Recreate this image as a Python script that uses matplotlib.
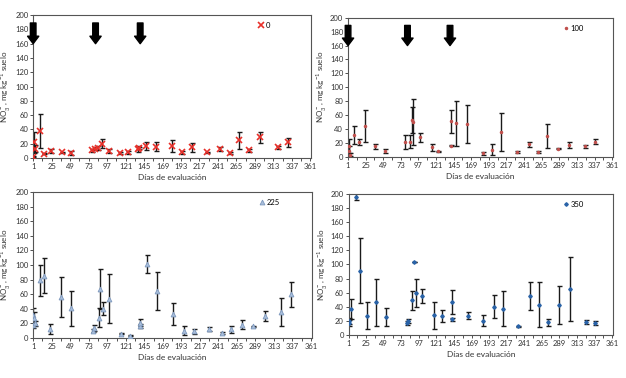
import matplotlib
matplotlib.use("Agg")
import matplotlib.pyplot as plt
import numpy as np

plt.rcParams['font.family'] = ['Lato', 'DejaVu Sans']
plt.rcParams['mathtext.fontset'] = 'custom'
plt.rcParams['mathtext.rm'] = 'Lato'

# dose 0
days1 = [1, 2, 3, 10, 15, 24, 38, 50, 78, 81, 85, 90, 99, 114, 124, 137, 139, 147, 161, 181,
         194, 207, 227, 243, 256, 268, 281, 296, 319, 332]
vals1 = [2, 22, 13, 38, 6, 10, 8, 7, 11, 13, 14, 20, 10, 7, 8, 13, 14, 17, 16, 17,
         8, 15, 8, 13, 7, 25, 11, 29, 15, 22]
err1 = [1, 15, 5, 24, 1, 3, 1, 3, 2, 2, 3, 6, 3, 1, 2, 4, 2, 6, 6, 8,
        2, 6, 1, 3, 1, 12, 2, 8, 2, 6]

# dose 100
days2 = [2, 2, 3, 9, 16, 24, 38, 51, 78, 85, 88, 89, 99, 116, 123, 142, 142, 148, 163, 185,
         197, 210, 231, 248, 260, 272, 287, 302, 324, 337]
vals2 = [15, 8, 3, 32, 21, 45, 15, 8, 21, 22, 53, 50, 28, 14, 8, 51, 16, 48, 47, 5,
         10, 36, 7, 18, 7, 30, 12, 17, 15, 22]
err2 = [10, 7, 2, 13, 4, 23, 3, 3, 10, 9, 18, 33, 7, 5, 1, 16, 1, 32, 27, 2,
        8, 27, 1, 4, 1, 17, 1, 4, 2, 4]

# dose 225
days3 = [1, 1, 2, 3, 10, 15, 23, 37, 50, 79, 80, 86, 88, 91, 99, 115, 126, 139, 140, 148,
         161, 182, 196, 210, 229, 246, 258, 271, 286, 301, 322, 335]
vals3 = [18, 32, 27, 20, 79, 85, 12, 56, 41, 10, 14, 28, 67, 40, 54, 6, 3, 16, 21, 101,
         64, 33, 10, 9, 12, 7, 12, 18, 16, 30, 36, 60]
err3 = [4, 9, 8, 3, 21, 24, 7, 27, 24, 2, 4, 13, 28, 9, 33, 1, 1, 3, 5, 12,
        26, 15, 6, 3, 3, 1, 5, 6, 1, 7, 19, 17]

# dose 350
days4 = [1, 2, 4, 11, 16, 26, 39, 52, 81, 82, 88, 90, 93, 101, 117, 128, 142, 142, 164, 185,
         199, 212, 232, 249, 261, 274, 288, 303, 325, 338]
vals4 = [17, 20, 37, 196, 91, 27, 46, 25, 17, 20, 49, 104, 59, 55, 28, 27, 22, 46, 27, 20,
         40, 37, 12, 55, 43, 18, 43, 65, 18, 17]
err4 = [4, 4, 14, 5, 46, 19, 33, 13, 3, 3, 13, 0, 20, 10, 19, 8, 2, 17, 5, 8,
        16, 25, 1, 20, 32, 5, 27, 45, 3, 3]

arrow_days = [1, 82, 140]
xticks = list(range(1, 362, 24))

panels = [
    ([0.053, 0.582, 0.444, 0.378], days1, vals1, err1, "0", dict(marker='x', color='#e8302a', ms=4, mew=1.2), True),
    ([0.556, 0.585, 0.423, 0.368], days2, vals2, err2, "100", dict(marker='.', color='#c0504d', ms=3), True),
    ([0.053, 0.106, 0.445, 0.386], days3, vals3, err3, "225", dict(marker='^', color='#a9bedb', mec='#7d98bd', mew=0.6, ms=3.5), False),
    ([0.557, 0.114, 0.422, 0.373], days4, vals4, err4, "350", dict(marker='D', color='#2a63a8', ms=1.8), False),
]

fig = plt.figure(figsize=(6.26, 3.78), dpi=100)

for rect, d, v, e, lab, mstyle, arrows in panels:
    ax = fig.add_axes(rect)
    ax.errorbar(d, v, yerr=e, fmt='none', ecolor='#1a1a1a', elinewidth=1.0, capsize=1.8, capthick=1.0, zorder=2)
    ax.plot(d, v, linestyle='none', label=lab, zorder=3, **mstyle)
    if arrows:
        for a in arrow_days:
            ax.annotate('', xy=(a, 160), xytext=(a, 189),
                        arrowprops=dict(arrowstyle='simple,head_width=0.9,head_length=0.6,tail_width=0.45',
                                        color='black', mutation_scale=9, shrinkA=0, shrinkB=0))
    ax.set_xlim(1, 362)
    ax.set_ylim(0, 200)
    ax.set_xticks(xticks)
    ax.set_xticks(list(range(13, 362, 24)), minor=True)
    ax.set_yticks(range(0, 201, 20))
    ax.tick_params(labelsize=5.5, length=2, width=0.6, pad=1.5, colors='#333333')
    ax.tick_params(which='minor', length=2, width=0.6, colors='#333333')
    for s in ax.spines.values():
        s.set_color('#555555')
        s.set_linewidth(0.8)
    ax.set_xlabel('Días de evaluación', fontsize=6, color='#333333', labelpad=3)
    ax.set_ylabel('NO$_3^-$, mg kg$^{-1}$ suelo', fontsize=5.8, color='#333333')
    ax.yaxis.set_label_coords(-0.072, 0.5)
    ax.legend(loc='upper left', bbox_to_anchor=(0.79, 0.99), frameon=False, fontsize=5.5,
              handlelength=0.8, handletextpad=0.2, borderpad=0.2)

fig.savefig('out.png', dpi=100)
